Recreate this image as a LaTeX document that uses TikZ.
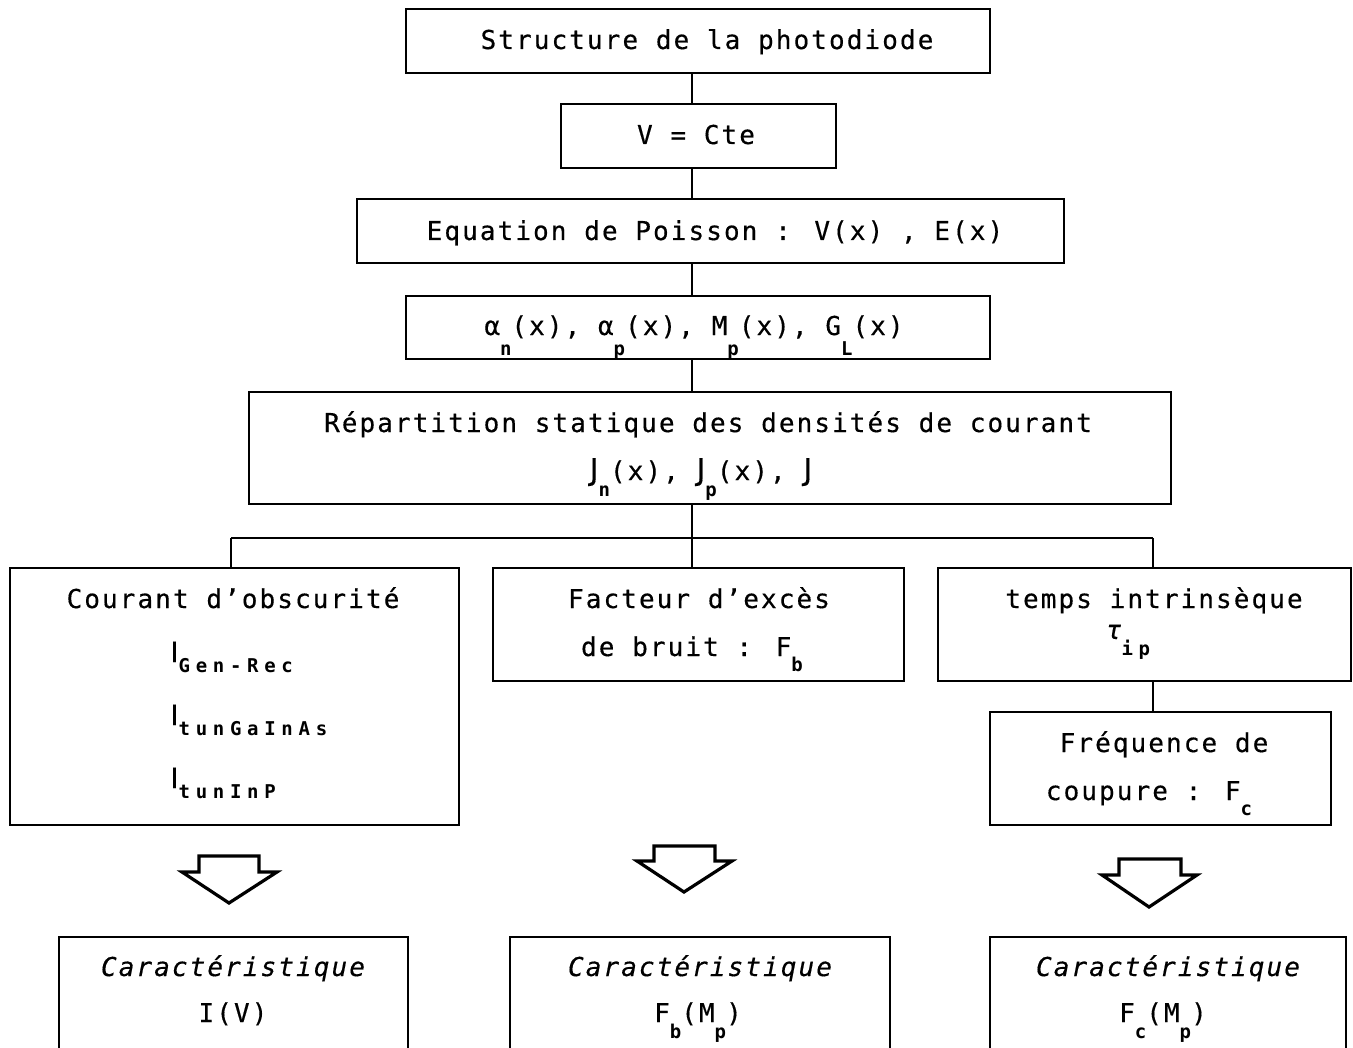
\documentclass[tikz,border=0pt]{standalone}
\usepackage{fontspec}
\newfontfamily\mainf[LetterSpace=8,FakeBold=0.4]{DejaVu Sans Mono}
\newfontfamily\subf[LetterSpace=30]{DejaVu Sans Mono}
\newfontfamily\plainf[FakeBold=0.4]{DejaVu Sans}
\newcommand\lo[2][9pt]{\smash{\raisebox{-#1}{\subf\bfseries\fontsize{9.5}{10}\selectfont #2}}}
\newcommand\bigI{{\plainf\fontsize{14}{15}\selectfont I}}
\newcommand\bigJ{{\plainf\fontsize{15}{16}\selectfont J}}
\begin{document}
\begin{tikzpicture}[x=0.5pt,y=-0.5pt,
  box/.style={draw, line width=1pt, inner sep=0pt},
  txt/.style={inner sep=0pt, anchor=base, font=\mainf\fontsize{13}{15}\selectfont},
  conn/.style={line width=1pt},
  hollow/.style={draw, line width=1.6pt, line join=miter, fill=white}]
\useasboundingbox (0,0) rectangle (1353,1048);
\clip (0,0) rectangle (1353,1048);
% trunk coordinates
\coordinate (trunk) at (692,0);
\coordinate (left) at (231,0);
\coordinate (right) at (1153,0);
\coordinate (junc) at (692,538);
% boxes
\node[box, minimum width=292pt, minimum height=32pt] (b1) at (698,41) {};
\node[box, minimum width=137.5pt, minimum height=32pt] (b2) at (698.5,136) {};
\node[box, minimum width=353.5pt, minimum height=32pt] (b3) at (710.5,231) {};
\node[box, minimum width=292pt, minimum height=31.5pt] (b4) at (698,327.5) {};
\node[box, minimum width=461pt, minimum height=56pt] (b5) at (710,448) {};
\node[box, minimum width=224.5pt, minimum height=128.5pt] (b6) at (234.5,696.5) {};
\node[box, minimum width=205.5pt, minimum height=56.5pt] (b7) at (698.5,624.5) {};
\node[box, minimum width=206.5pt, minimum height=56.5pt] (b8) at (1144.5,624.5) {};
\node[box, minimum width=170.5pt, minimum height=56.5pt] (b9) at (1160.5,768.5) {};
\node[box, minimum width=174.5pt, minimum height=71.5pt] (b10) at (233.5,1008.5) {};
\node[box, minimum width=190pt, minimum height=71.5pt] (b11) at (700,1008.5) {};
\node[box, minimum width=178pt, minimum height=71.5pt] (b12) at (1168,1008.5) {};
% connectors
\draw[conn] (b1.south -| trunk) -- (b2.north -| trunk);
\draw[conn] (b2.south -| trunk) -- (b3.north -| trunk);
\draw[conn] (b3.south -| trunk) -- (b4.north -| trunk);
\draw[conn] (b4.south -| trunk) -- (b5.north -| trunk);
\draw[conn] (b5.south -| trunk) -- (junc);
\draw[conn] (junc -| left) -- (junc -| right);
\draw[conn] (junc -| left) -- (b6.north -| left);
\draw[conn] (junc) -- (b7.north -| trunk);
\draw[conn] (junc -| right) -- (b8.north -| right);
\draw[conn] (b8.south -| right) -- (b9.north -| right);
% hollow arrows
\draw[hollow] (199,856) -- (259,856) -- (259,872) -- (277,872) -- (229,903) -- (182,872) -- (199,872) -- cycle;
\draw[hollow] (654,846) -- (715,846) -- (715,861) -- (732,861) -- (684,892) -- (637,861) -- (654,861) -- cycle;
\draw[hollow] (1119,859) -- (1181,859) -- (1181,875) -- (1197,875) -- (1149,907) -- (1102,875) -- (1119,875) -- cycle;
% texts
\node[txt] (t1) at (707,49) {Structure de la photodiode};
\node[txt] (t2) at (696,144) {V = Cte};
\node[txt] (t3) at (715,240) {Equation de Poisson : V(x) , E(x)};
\node[txt] (t4) at (694,335) {α\lo[10pt]{n}(x), α\lo[10pt]{p}(x),  M\lo[10pt]{p}(x), G\lo[10pt]{L}(x)};
\node[txt] (t5a) at (708,432) {Répartition statique des densités de courant};
\node[txt] (t5b) at (701,480) {\bigJ\lo[8pt]{n}(x), \bigJ\lo[8pt]{p}(x), \bigJ};
\node[txt] (t6a) at (233,608) {Courant d’obscurité};
\node[txt, anchor=base west] (t6b) at (170,662) {\bigI\lo[5pt]{Gen-Rec}};
\node[txt, anchor=base west] (t6c) at (170,725) {\bigI\lo[5pt]{tunGaInAs}};
\node[txt, anchor=base west] (t6d) at (170,788) {\bigI\lo[5pt]{tunInP}};
\node[txt] (t7a) at (699,608) {Facteur d’excès};
\node[txt] (t7b) at (692,656) {de bruit : F\lo[7.5pt]{b}};
\node[txt] (t8a) at (1154,608) {temps intrinsèque};
\node[txt] (t8b) at (1128,639) {{\itshape τ}\lo[8pt]{ip}};
\node[txt] (t9a) at (1164,752) {Fréquence de};
\node[txt] (t9b) at (1149,800) {coupure : F\lo[7.5pt]{c}};
\node[txt] (t10a) at (233,976) {\itshape Caractéristique};
\node[txt] (t10b) at (233,1022) {I(V)};
\node[txt] (t11a) at (700,976) {\itshape Caractéristique};
\node[txt] (t11b) at (698,1022) {F\lo[8pt]{b}(M\lo[8pt]{p})};
\node[txt] (t12a) at (1168,976) {\itshape Caractéristique};
\node[txt] (t12b) at (1163,1022) {F\lo[8pt]{c}(M\lo[8pt]{p})};
\end{tikzpicture}
\end{document}
